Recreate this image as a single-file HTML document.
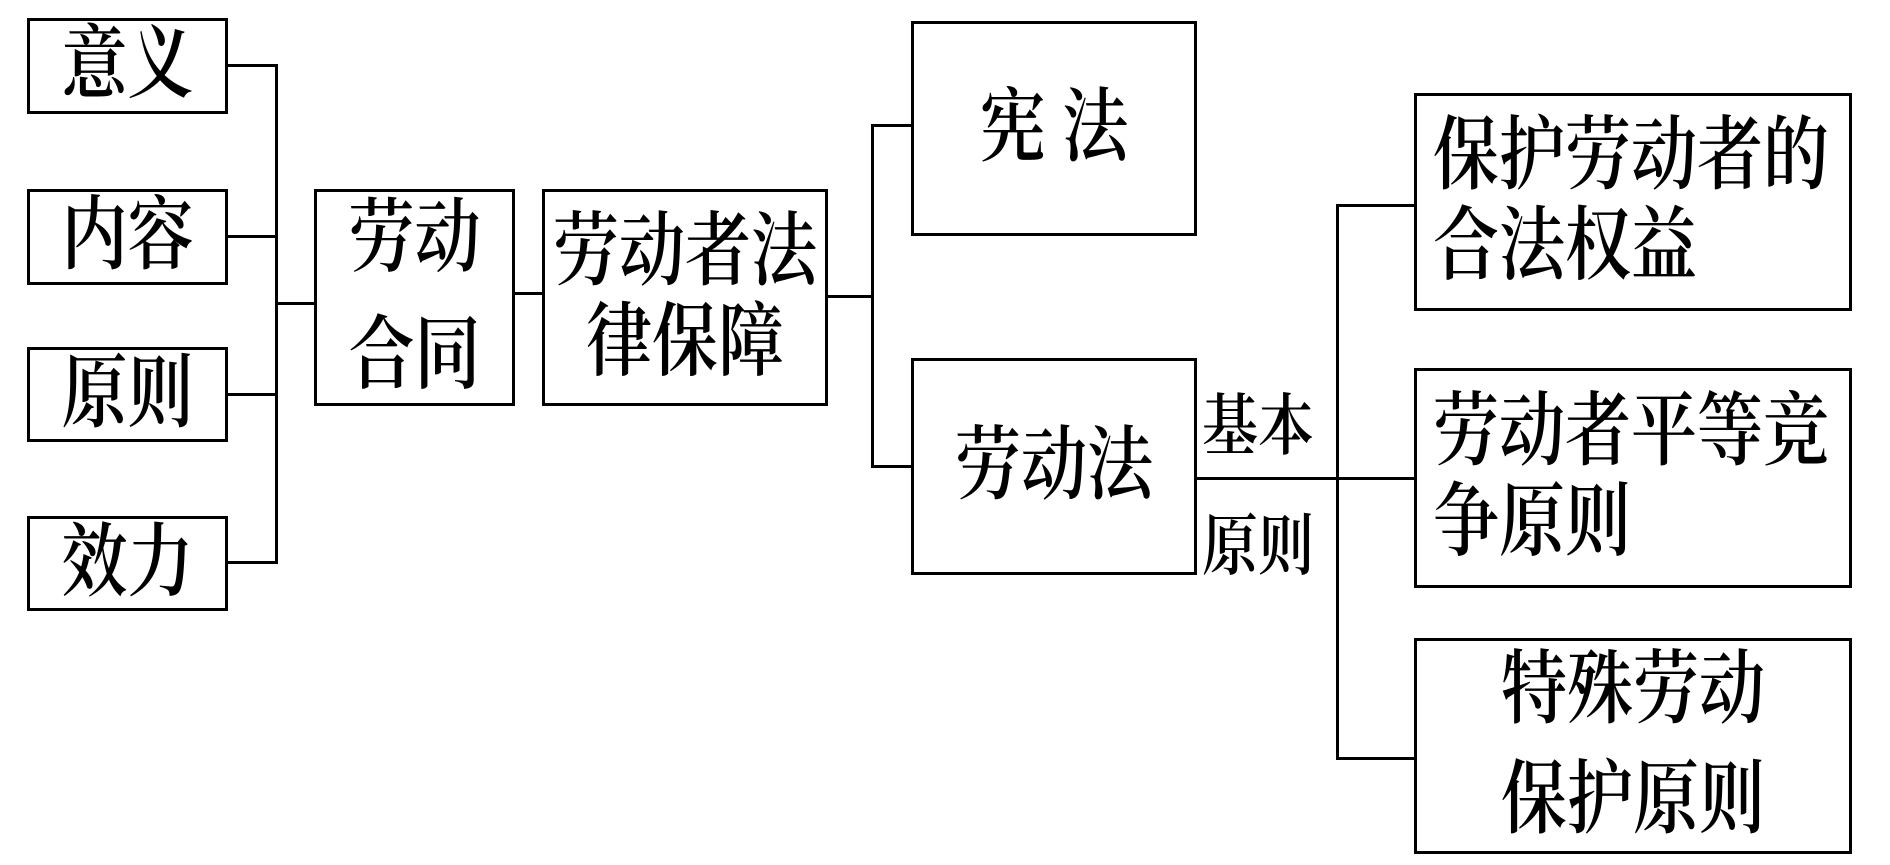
<!DOCTYPE html>
<html><head><meta charset="utf-8"><style>
body{margin:0;width:1890px;height:865px;background:#fff;position:relative;overflow:hidden;font-family:"Liberation Serif","Noto Serif CJK SC",serif;}
.b{position:absolute;border:3px solid #000;box-sizing:border-box;display:flex;align-items:center;justify-content:center;text-align:center;font-size:66px;font-weight:600;color:#000;}
.b span{display:inline-block;transform:scaleY(1.22);line-height:inherit}
.h,.v{position:absolute;background:#000;}
.h{height:3px}.v{width:3px}
.t{position:absolute;font-size:56px;font-weight:600;line-height:56px;transform:scaleY(1.2);transform-origin:top left}
.L{justify-content:flex-start;text-align:left;padding-left:16px}
</style></head><body>
<div class="b" style="left:27px;top:18px;width:201px;height:96px;line-height:80px"><span>意义</span></div>
<div class="b" style="left:27px;top:189px;width:201px;height:96px;line-height:80px"><span>内容</span></div>
<div class="b" style="left:27px;top:347px;width:201px;height:95px;line-height:80px"><span>原则</span></div>
<div class="b" style="left:27px;top:516px;width:201px;height:95px;line-height:80px"><span>效力</span></div>
<div class="v" style="left:275px;top:64px;height:500px"></div>
<div class="h" style="left:227px;top:64px;width:50px"></div>
<div class="h" style="left:227px;top:235px;width:50px"></div>
<div class="h" style="left:227px;top:393px;width:50px"></div>
<div class="h" style="left:227px;top:561px;width:50px"></div>
<div class="h" style="left:275px;top:302px;width:41px"></div>
<div class="b" style="left:314px;top:189px;width:201px;height:217px;line-height:96px"><span>劳动<br>合同</span></div>
<div class="h" style="left:513px;top:292px;width:31px"></div>
<div class="b" style="left:542px;top:189px;width:286px;height:217px;line-height:74px"><span>劳动者法<br>律保障</span></div>
<div class="h" style="left:826px;top:295px;width:48px"></div>
<div class="v" style="left:871px;top:124px;height:344px"></div>
<div class="h" style="left:871px;top:124px;width:42px"></div>
<div class="h" style="left:871px;top:465px;width:42px"></div>
<div class="b" style="left:911px;top:21px;width:286px;height:215px;line-height:80px"><span>宪 法</span></div>
<div class="b" style="left:911px;top:358px;width:286px;height:217px;line-height:80px"><span>劳动法</span></div>
<div class="h" style="left:1195px;top:477px;width:221px"></div>
<div class="v" style="left:1336px;top:204px;height:556px"></div>
<div class="h" style="left:1336px;top:204px;width:80px"></div>
<div class="h" style="left:1336px;top:757px;width:80px"></div>
<div class="t" style="left:1202px;top:394px">基本</div>
<div class="t" style="left:1202px;top:514px">原则</div>
<div class="b L" style="left:1414px;top:93px;width:438px;height:218px;line-height:74px"><span>保护劳动者的<br>合法权益</span></div>
<div class="b L" style="left:1414px;top:368px;width:438px;height:220px;line-height:74px"><span>劳动者平等竞<br>争原则</span></div>
<div class="b" style="left:1414px;top:638px;width:438px;height:216px;line-height:90px"><span>特殊劳动<br>保护原则</span></div>
</body></html>
